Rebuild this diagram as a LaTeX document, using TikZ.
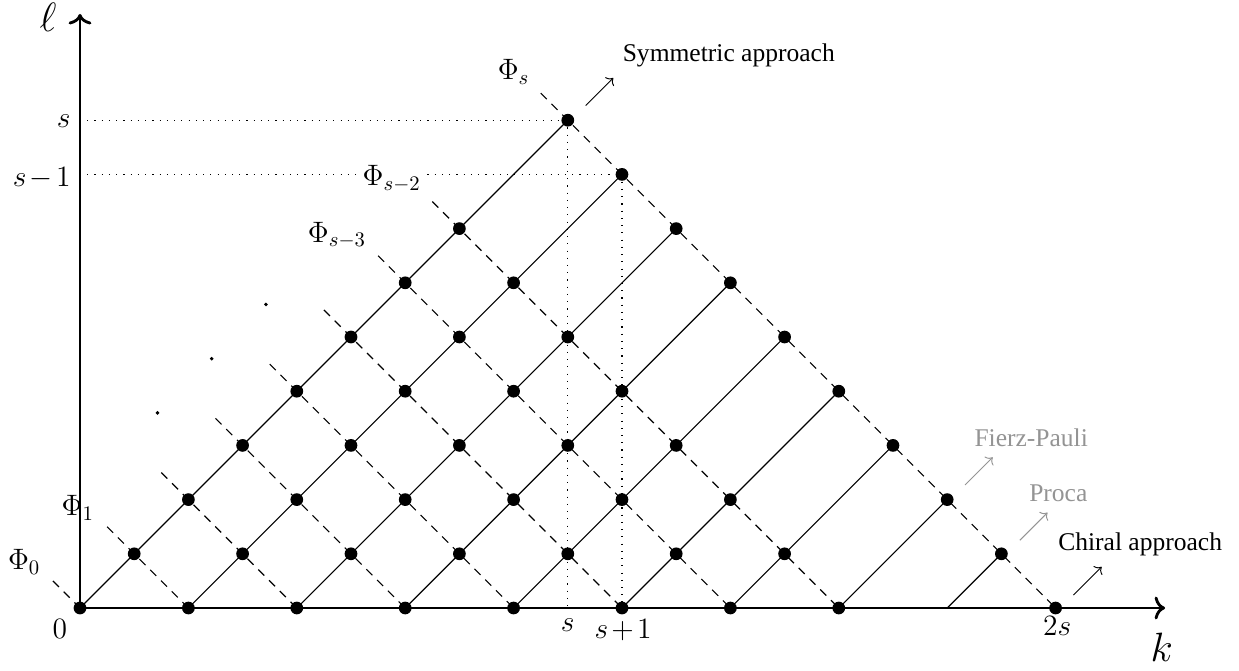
\RequirePackage{fix-cm}
\documentclass[tikz,border=0pt]{standalone}
\usepackage[no-math]{fontspec}
\setmainfont{Liberation Serif}
\usetikzlibrary{arrows.meta}
\definecolor{softgray}{gray}{0.58}
\begin{document}
\begin{tikzpicture}[x=1cm,y=1cm,
  dotnode/.style={circle,fill=black,inner sep=0pt,minimum size=0.235cm},
  smalldot/.style={circle,fill=black,inner sep=0pt,minimum size=0.07cm},
  latt/.style={line width=0.6pt},
  philine/.style={line width=0.6pt,dash pattern=on 4.5pt off 3.5pt},
  guide/.style={line width=0.6pt,dash pattern=on 0.6pt off 3.2pt},
  axis/.style={line width=1.5pt,-{Computer Modern Rightarrow[length=5.5pt,width=12pt]}},
  approach/.style={line width=0.5pt,-{Computer Modern Rightarrow[length=3pt,width=6.5pt]}},
  mlabel/.style={font=\fontsize{15.5}{18}\selectfont},
  biglabel/.style={font=\fontsize{21.5}{25}\selectfont},
  tlabel/.style={font=\fontsize{13.4}{16}\selectfont},
]
\useasboundingbox (-1.476,-1.162) rectangle (21.384,11.218);

% lattice coordinates
\foreach \j in {0,...,7,9}{
  \foreach \a in {0,...,\j}{
    \coordinate (c-\j-\a) at ({\j+\a},{\j-\a});
  }
  \coordinate (t-\j) at ({\j-0.5},{\j+0.5});
}
\foreach \a in {0,...,8}{
  \coordinate (b-\a) at ({2*\a},0);
}
\coordinate (O) at (0,0);
\coordinate (xend) at (20.02,0);
\coordinate (yend) at (0,10.96);
\coordinate (ys) at (0,9);
\coordinate (ys1) at (0,8);
\coordinate (xs) at (9,0);

% dotted guides
\draw[guide] (ys) -- (c-9-0);
\draw[guide] (ys1) -- (c-9-1);
\draw[guide] (c-9-0) -- (xs);
\draw[guide] (c-9-1) -- (c-5-5);

% solid lines
\foreach \a in {0,...,8}{
  \draw[latt] (b-\a) -- (c-9-\a);
}
% dashed lines
\foreach \j in {0,...,7,9}{
  \draw[philine] (t-\j) -- (c-\j-\j);
}

% axes
\draw[axis] (O) -- (xend);
\draw[axis] (O) -- (yend);

% dots
\foreach \j in {0,...,7,9}{
  \foreach \a in {0,...,\j}{
    \node[dotnode] (p-\j-\a) at (c-\j-\a) {};
  }
}
\node[smalldot] (e1) at (1.43,3.6) {};
\node[smalldot] (e2) at (2.43,4.6) {};
\node[smalldot] (e3) at (3.43,5.6) {};

% axis labels
\node[biglabel] (ell) at (-0.59,10.89) {$\ell$};
\node[biglabel] (kk) at (19.96,-0.72) {$k$};
\node[mlabel,anchor=north] (l0) at (-0.37,-0.09) {$0$};
\node[mlabel,anchor=north] (lxs) at (9,-0.07) {$s$};
\node[mlabel,anchor=north] (lxs1) at (10.02,-0.08) {$s\mkern2mu{+}\mkern2mu1$};
\node[mlabel,anchor=north] (lx2s) at (18.03,-0.04) {$2s$};
\node[mlabel,anchor=east] (lys) at (-0.05,8.98) {$s$};
\node[mlabel,anchor=east] (lys1) at (-0.05,7.93) {$s\mkern2mu{-}\mkern2mu1$};

% Phi labels
\node[mlabel] (phis) at (8.0,9.89) {$\Phi_s$};
\node[mlabel,fill=white,inner sep=0.5pt] (phis2) at (5.75,7.92) {$\Phi_{s-2}$};
\node[mlabel] (phis3) at (4.74,6.88) {$\Phi_{s-3}$};
\node[mlabel] (phi1) at (-0.04,1.85) {$\Phi_1$};
\node[mlabel] (phi0) at (-1.03,0.85) {$\Phi_0$};

% approach arrows
\coordinate (sa1) at (9.33,9.27); \coordinate (sa2) at (9.84,9.78);
\coordinate (fa1) at (16.33,2.27); \coordinate (fa2) at (16.84,2.78);
\coordinate (pa1) at (17.34,1.25); \coordinate (pa2) at (17.85,1.76);
\coordinate (ca1) at (18.33,0.24); \coordinate (ca2) at (18.85,0.76);
\draw[approach] (sa1) -- (sa2);
\draw[approach,softgray] (fa1) -- (fa2);
\draw[approach,softgray] (pa1) -- (pa2);
\draw[approach] (ca1) -- (ca2);

\node[tlabel,anchor=base] (tsym) at (11.97,10.08) {Symmetric approach};
\node[tlabel,anchor=base,text=softgray] (tfp) at (17.55,2.98) {Fierz-Pauli};
\node[tlabel,anchor=base,text=softgray] (tpr) at (18.05,1.96) {Proca};
\node[tlabel,anchor=base] (tch) at (19.56,1.07) {Chiral approach};
\end{tikzpicture}
\end{document}
